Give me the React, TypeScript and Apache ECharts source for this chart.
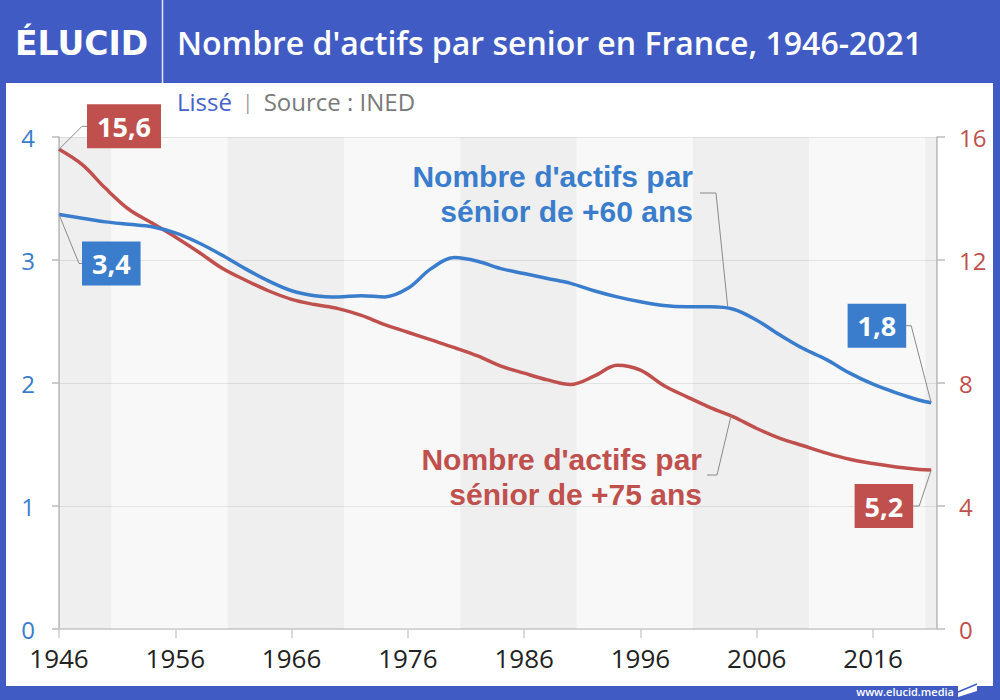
import React, { useEffect, useRef } from "react";
import * as echarts from "echarts";

// ---- data ----
const years = [
  1946, 1948, 1950, 1952, 1954, 1956, 1958, 1960, 1962, 1964, 1966, 1968, 1970,
  1972, 1974, 1976, 1978, 1980, 1982, 1984, 1986, 1988, 1990, 1992, 1994, 1996,
  1998, 2000, 2002, 2004, 2006, 2008, 2010, 2012, 2014, 2016, 2018, 2020, 2021,
];
// Actifs par senior de +60 ans (left axis)
const seniors60 = [
  3.37, 3.34, 3.31, 3.29, 3.27, 3.22, 3.14, 3.04, 2.93, 2.83, 2.75, 2.71, 2.70,
  2.71, 2.70, 2.77, 2.93, 3.02, 2.99, 2.93, 2.89, 2.85, 2.81, 2.75, 2.70, 2.66,
  2.63, 2.62, 2.62, 2.60, 2.51, 2.39, 2.28, 2.19, 2.08, 1.99, 1.92, 1.86, 1.84,
];
// Actifs par senior de +75 ans (right axis)
const seniors75 = [
  15.6, 15.1, 14.33, 13.65, 13.2, 12.75, 12.26, 11.74, 11.35, 11.0, 10.72, 10.55,
  10.42, 10.2, 9.9, 9.65, 9.4, 9.15, 8.88, 8.55, 8.32, 8.1, 7.95, 8.22, 8.58,
  8.42, 7.92, 7.55, 7.2, 6.9, 6.52, 6.2, 5.96, 5.72, 5.52, 5.38, 5.27, 5.19, 5.17,
];
const xTickYears = [1946, 1956, 1966, 1976, 1986, 1996, 2006, 2016];
const bandStarts = [1946, 1960.5, 1980.5, 2000.5, 2020.5];
const bandEnds = [1950.5, 1970.5, 1990.5, 2010.5, 2021.5];

const titleText = "Nombre d'actifs par senior en France, 1946-2021";
const logoText = "ÉLUCID";
const smoothText = "Lissé";
const sourceText = "Source : INED";
const label60 = ["Nombre d'actifs par", "sénior de +60 ans"];
const label75 = ["Nombre d'actifs par", "sénior de +75 ans"];
const footerText = "www.elucid.media";
const anchorYear60 = 2003.5;
const anchorYear75 = 2003.8;

// ---- styles ----
const FRAME = "#405cc4";
const BLUE = "#3a7dcc";
const RED = "#c0504d";
const FONT = "'Open Sans', 'Noto Sans', sans-serif";
const ANNOT_FONT = "'Liberation Sans', Arial, sans-serif";

const fmt = (v: number) => v.toFixed(1).replace(".", ",");

export default function App() {
  const ref = useRef<HTMLDivElement>(null);

  useEffect(() => {
    if (!ref.current) return;
    const chart = echarts.init(ref.current, null, { renderer: "svg" });

    const option: any = {
      animation: false,
      backgroundColor: FRAME,
      textStyle: { fontFamily: FONT },
      grid: {
        left: 59,
        right: 63,
        top: 137,
        bottom: 71,
        show: true,
        backgroundColor: "#f8f8f8",
        borderWidth: 0,
      },
      xAxis: {
        type: "value",
        min: 1946,
        max: 2021.5,
        axisLine: { show: true, lineStyle: { color: "#cccccc", width: 1.5 } },
        axisTick: {
          show: true,
          length: 9,
          customValues: xTickYears,
          lineStyle: { color: "#cccccc", width: 1.5 },
        },
        axisLabel: {
          customValues: xTickYears,
          color: "#222222",
          fontSize: 26,
          fontFamily: FONT,
          margin: 16,
          formatter: (v: number) => String(v),
        },
        splitLine: { show: false },
      },
      yAxis: [
        {
          type: "value",
          min: 0,
          max: 4,
          interval: 1,
          position: "left",
          axisLine: { show: true, lineStyle: { color: "#bbbbbb", width: 1.5 } },
          axisTick: { show: true, length: 7, lineStyle: { color: "#bbbbbb", width: 1.5 } },
          axisLabel: { color: BLUE, fontSize: 24, fontFamily: FONT, margin: 24 },
          splitLine: { show: true, lineStyle: { color: "#e4e4e4", width: 1 } },
        },
        {
          type: "value",
          min: 0,
          max: 16,
          interval: 4,
          position: "right",
          axisLine: { show: true, lineStyle: { color: "#bbbbbb", width: 1.5 } },
          axisTick: { show: true, length: 8, lineStyle: { color: "#bbbbbb", width: 1.5 } },
          axisLabel: { color: RED, fontSize: 24, fontFamily: FONT, margin: 22 },
          splitLine: { show: false },
        },
      ],
      series: [
        {
          type: "line",
          name: "+60 ans",
          yAxisIndex: 0,
          data: years.map((y, i) => [y, seniors60[i]]),
          smooth: 0.35,
          showSymbol: false,
          lineStyle: { color: BLUE, width: 3.5 },
          z: 4,
          markArea: {
            silent: true,
            itemStyle: { color: "rgba(0,0,0,0.035)" },
            data: bandStarts.map((s, i) => [{ xAxis: s }, { xAxis: bandEnds[i] }]),
          },
        },
        {
          type: "line",
          name: "+75 ans",
          yAxisIndex: 1,
          data: years.map((y, i) => [y, seniors75[i]]),
          smooth: 0.35,
          showSymbol: false,
          lineStyle: { color: RED, width: 3.5 },
          z: 3,
        },
      ],
    };
    chart.setOption(option);

    const p60 = (x: number, y: number) => chart.convertToPixel({ seriesIndex: 0 }, [x, y]) as number[];
    const p75 = (x: number, y: number) => chart.convertToPixel({ seriesIndex: 1 }, [x, y]) as number[];
    const n = years.length - 1;

    const connector = (pts: number[][]) => ({
      type: "polyline",
      z: 50,
      silent: true,
      shape: { points: pts },
      style: { stroke: "#8a8a8a", lineWidth: 1, fill: null },
    });
    const valueBox = (x: number, y: number, text: string, color: string, align: string) => ({
      type: "text",
      z: 60,
      x,
      y,
      style: {
        text,
        fill: "#ffffff",
        fontSize: 27,
        fontWeight: 700,
        fontFamily: FONT,
        align,
        textAlign: align,
        verticalAlign: "middle",
        textVerticalAlign: "middle",
        backgroundColor: color,
        padding: [8, 10, 8, 10],
        lineHeight: 28,
      },
    });
    const annot = (x: number, y: number, text: string, color: string) => ({
      type: "text",
      z: 40,
      x,
      y,
      style: {
        text,
        fill: color,
        fontSize: 30,
        fontWeight: 700,
        fontFamily: ANNOT_FONT,
        align: "right",
        textAlign: "right",
        verticalAlign: "middle",
        textVerticalAlign: "middle",
      },
    });

    const a75 = p75(years[0], seniors75[0]);
    const a60 = p60(years[0], seniors60[0]);
    const b60 = p60(years[n], seniors60[n]);
    const b75 = p75(years[n], seniors75[n]);
    const m60 = p60(anchorYear60, 2.62);
    const m75 = p75(anchorYear75, 6.95);

    const e1 = [a75[0] + 23, a75[1] - 23];
    const e2 = [a60[0] + 20, a60[1] + 49];
    const e3 = [b60[0] - 20, b60[1] - 77];
    const e4 = [b75[0] - 12, b75[1] + 36];

    const graphic: any[] = [
      {
        type: "rect",
        z: -10,
        silent: true,
        shape: { x: 6, y: 83, width: 987, height: 603 },
        style: { fill: "#ffffff" },
      },
      {
        type: "line",
        z: 10,
        silent: true,
        shape: { x1: 162.5, y1: 0, x2: 162.5, y2: 83 },
        style: { stroke: "rgba(255,255,255,0.85)", lineWidth: 1.5 },
      },
      {
        type: "text",
        z: 10,
        x: 15,
        y: 43,
        style: {
          text: logoText,
          fill: "#ffffff",
          fontSize: 33,
          fontWeight: 700,
          fontFamily: "'DejaVu Sans', sans-serif",
          align: "left",
          textAlign: "left",
          verticalAlign: "middle",
          textVerticalAlign: "middle",
        },
      },
      {
        type: "text",
        z: 10,
        x: 177,
        y: 42,
        style: {
          text: titleText,
          fill: "#ffffff",
          fontSize: 32,
          fontWeight: 600,
          fontFamily: FONT,
          align: "left",
          textAlign: "left",
          verticalAlign: "middle",
          textVerticalAlign: "middle",
        },
      },
      {
        type: "text",
        z: 10,
        x: 177,
        y: 101,
        style: {
          text: `{a|${smoothText}}{b|  |  }{c|${sourceText}}`,
          rich: {
            a: { fill: "#4462c8", fontSize: 24, fontFamily: FONT },
            b: { fill: "#9a9a9a", fontSize: 20, fontFamily: FONT },
            c: { fill: "#7a7a7a", fontSize: 24, fontFamily: FONT },
          },
          align: "left",
          textAlign: "left",
          verticalAlign: "middle",
          textVerticalAlign: "middle",
        },
      },
      annot(693, 176, label60[0], BLUE),
      annot(693, 211, label60[1], BLUE),
      connector([[700, 193], [716, 193], m60]),
      annot(702, 459, label75[0], RED),
      annot(702, 494, label75[1], RED),
      connector([[707, 475], [717, 475], m75]),
      connector([a75, e1, [e1[0] + 5, e1[1]]]),
      valueBox(e1[0] + 5, e1[1], fmt(seniors75[0]), RED, "left"),
      connector([a60, e2, [e2[0] + 3, e2[1]]]),
      valueBox(e2[0] + 3, e2[1], fmt(seniors60[0]), BLUE, "left"),
      connector([b60, e3, [e3[0] - 5, e3[1]]]),
      valueBox(e3[0] - 5, e3[1], fmt(seniors60[n]), BLUE, "right"),
      connector([b75, e4, [e4[0] - 6, e4[1]]]),
      valueBox(e4[0] - 6, e4[1], fmt(seniors75[n]), RED, "right"),
      {
        type: "text",
        z: 10,
        x: 954,
        y: 691,
        style: {
          text: footerText,
          fill: "#ffffff",
          fontSize: 11,
          fontWeight: 600,
          fontFamily: FONT,
          align: "right",
          textAlign: "right",
          verticalAlign: "middle",
          textVerticalAlign: "middle",
        },
      },
      {
        type: "polygon",
        z: 10,
        silent: true,
        shape: { points: [[958, 685], [977, 677], [977, 691], [958, 697]] },
        style: { fill: "#ffffff" },
      },
      {
        type: "line",
        z: 11,
        silent: true,
        shape: { x1: 958, y1: 692, x2: 977, y2: 684 },
        style: { stroke: FRAME, lineWidth: 1.5 },
      },
    ];
    chart.setOption({ graphic });

    return () => chart.dispose();
  }, []);

  return (
    <div
      ref={ref}
      style={{ position: "fixed", left: 0, top: 0, width: 1000, height: 700 }}
    />
  );
}
